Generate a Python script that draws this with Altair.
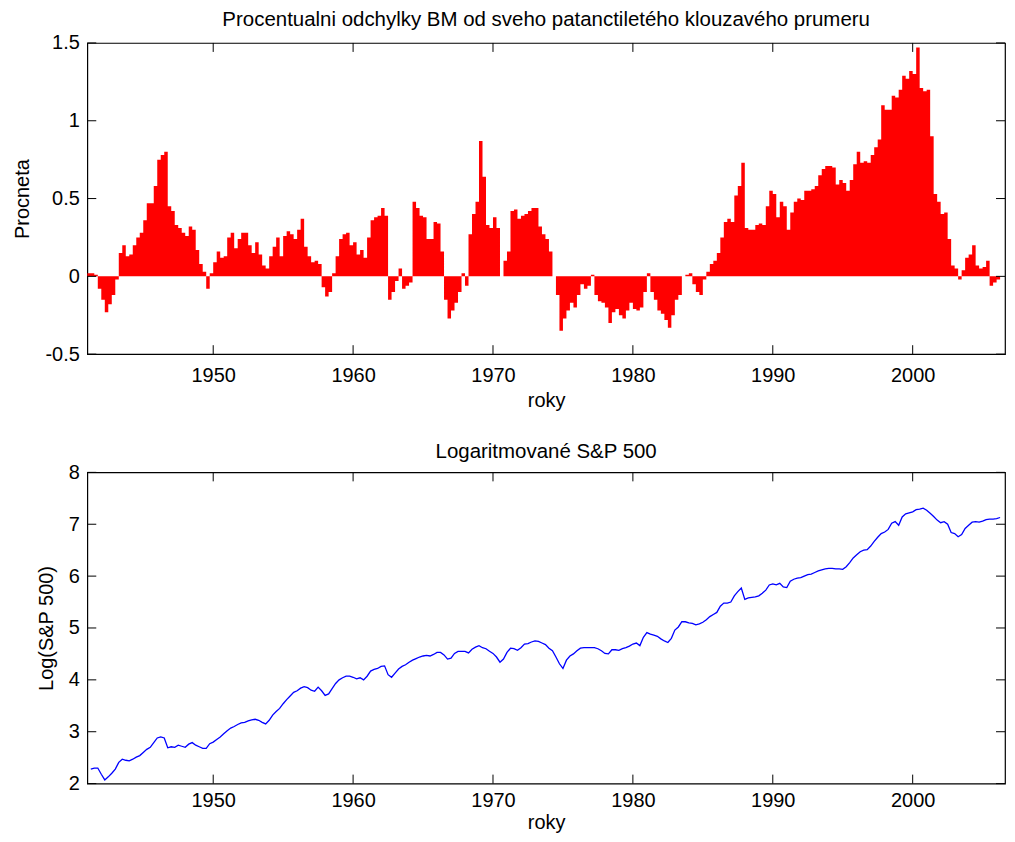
import altair as alt
import pandas as pd

# ---------------- data (quarterly) ----------------
bm_start = 1941.0
bm_dev = [
    0.02, 0.02, 0.01, -0.08, -0.15, -0.23, -0.18, -0.12, -0.02, 0.15,
    0.20, 0.13, 0.14, 0.20, 0.25, 0.28, 0.36, 0.47, 0.47, 0.58,
    0.75, 0.78, 0.80, 0.45, 0.42, 0.33, 0.31, 0.28, 0.26, 0.32,
    0.30, 0.17, 0.08, 0.03, -0.08, 0.02, 0.09, 0.16, 0.12, 0.13,
    0.25, 0.28, 0.18, 0.24, 0.28, 0.28, 0.20, 0.15, 0.22, 0.14,
    0.07, 0.05, 0.13, 0.19, 0.25, 0.13, 0.26, 0.29, 0.27, 0.24,
    0.30, 0.37, 0.19, 0.13, 0.09, 0.10, 0.08, -0.07, -0.13, -0.10,
    0.02, 0.13, 0.24, 0.27, 0.28, 0.20, 0.22, 0.14, 0.17, 0.12,
    0.25, 0.36, 0.38, 0.39, 0.44, 0.39, -0.15, -0.10, -0.03, 0.05,
    -0.08, -0.06, -0.04, 0.48, 0.44, 0.39, 0.38, 0.24, 0.24, 0.35,
    0.34, 0.16, -0.15, -0.27, -0.22, -0.17, -0.10, 0.02, -0.06, 0.27,
    0.40, 0.48, 0.87, 0.64, 0.33, 0.31, 0.38, 0.31, 0.00, 0.10,
    0.16, 0.42, 0.43, 0.37, 0.39, 0.40, 0.42, 0.44, 0.44, 0.32,
    0.27, 0.24, 0.16, 0.00, -0.12, -0.35, -0.27, -0.22, -0.17, -0.20,
    -0.12, -0.05, -0.08, -0.06, 0.01, -0.12, -0.16, -0.17, -0.20, -0.30,
    -0.23, -0.21, -0.25, -0.27, -0.22, -0.17, -0.21, -0.22, -0.20, -0.10,
    0.02, -0.10, -0.15, -0.22, -0.24, -0.28, -0.33, -0.25, -0.15, -0.12,
    0.00, 0.01, 0.02, -0.05, -0.10, -0.12, -0.02, 0.03, 0.08, 0.10,
    0.15, 0.25, 0.35, 0.37, 0.35, 0.52, 0.58, 0.73, 0.31, 0.30,
    0.30, 0.33, 0.34, 0.33, 0.45, 0.55, 0.53, 0.38, 0.48, 0.45,
    0.30, 0.41, 0.48, 0.50, 0.49, 0.55, 0.55, 0.56, 0.58, 0.65,
    0.69, 0.71, 0.71, 0.70, 0.59, 0.62, 0.60, 0.55, 0.62, 0.72,
    0.80, 0.73, 0.74, 0.73, 0.78, 0.83, 0.88, 1.10, 1.07, 1.07,
    1.16, 1.15, 1.20, 1.29, 1.27, 1.32, 1.30, 1.47, 1.21, 1.19,
    1.20, 0.90, 0.53, 0.48, 0.40, 0.41, 0.24, 0.07, 0.05, -0.02,
    0.04, 0.12, 0.14, 0.20, 0.07, 0.05, 0.06, 0.10, -0.06, -0.04,
    -0.02, 0.00,
]

sp_start = 1941.25
log_sp = [
    2.28, 2.30, 2.30, 2.18, 2.07, 2.13, 2.20, 2.28, 2.41, 2.47,
    2.45, 2.44, 2.47, 2.51, 2.54, 2.60, 2.66, 2.70, 2.79, 2.88,
    2.90, 2.88, 2.69, 2.71, 2.70, 2.74, 2.72, 2.70, 2.76, 2.79,
    2.74, 2.71, 2.68, 2.68, 2.77, 2.80, 2.85, 2.90, 2.96, 3.02,
    3.07, 3.10, 3.14, 3.17, 3.18, 3.21, 3.23, 3.24, 3.22, 3.18,
    3.15, 3.22, 3.32, 3.39, 3.45, 3.54, 3.62, 3.69, 3.76, 3.79,
    3.84, 3.87, 3.85, 3.80, 3.78, 3.86, 3.79, 3.70, 3.73, 3.83,
    3.93, 4.00, 4.04, 4.07, 4.07, 4.05, 4.02, 4.04, 4.00, 4.07,
    4.17, 4.20, 4.22, 4.26, 4.27, 4.10, 4.05, 4.13, 4.21, 4.26,
    4.29, 4.34, 4.38, 4.41, 4.44, 4.46, 4.47, 4.46, 4.49, 4.53,
    4.53, 4.48, 4.40, 4.42, 4.51, 4.55, 4.55, 4.55, 4.52, 4.59,
    4.63, 4.66, 4.62, 4.60, 4.55, 4.51, 4.44, 4.34, 4.40, 4.53,
    4.61, 4.60, 4.57, 4.62, 4.69, 4.70, 4.73, 4.75, 4.74, 4.71,
    4.68, 4.61, 4.56, 4.44, 4.31, 4.22, 4.38, 4.46, 4.50, 4.56,
    4.61, 4.62, 4.62, 4.62, 4.62, 4.60, 4.56, 4.51, 4.50, 4.58,
    4.58, 4.57, 4.60, 4.62, 4.65, 4.69, 4.71, 4.66, 4.82, 4.91,
    4.88, 4.86, 4.84, 4.79, 4.75, 4.72, 4.80, 4.96, 5.02, 5.12,
    5.12, 5.10, 5.09, 5.06, 5.08, 5.11, 5.16, 5.22, 5.26, 5.30,
    5.42, 5.48, 5.48, 5.50, 5.62, 5.70, 5.77, 5.55, 5.58, 5.59,
    5.60, 5.62, 5.67, 5.73, 5.83, 5.85, 5.83, 5.86, 5.79, 5.78,
    5.90, 5.94, 5.96, 5.97, 6.00, 6.03, 6.04, 6.07, 6.10, 6.12,
    6.14, 6.15, 6.15, 6.14, 6.14, 6.13, 6.18, 6.26, 6.35, 6.41,
    6.47, 6.50, 6.51, 6.58, 6.67, 6.75, 6.82, 6.85, 6.90, 7.02,
    7.05, 6.98, 7.14, 7.20, 7.22, 7.24, 7.28, 7.29, 7.31, 7.27,
    7.21, 7.15, 7.08, 7.03, 7.05, 7.00, 6.84, 6.82, 6.76, 6.80,
    6.92, 6.98, 7.04, 7.05, 7.04, 7.06, 7.09, 7.10, 7.10, 7.11,
    7.13,
]

step = 0.25
x_ticks = [1950, 1960, 1970, 1980, 1990, 2000]
y_ticks_top = [-0.5, 0, 0.5, 1, 1.5]
y_ticks_bottom = [2, 3, 4, 5, 6, 7, 8]
x_domain = [1941.0, 2006.6]

title_top = "Procentualni odchylky BM od sveho patanctiletého klouzavého prumeru"
title_bottom = "Logaritmované S&P 500"
ylab_top = "Procneta"
ylab_bottom = "Log(S&P 500)"
xlab = "roky"

# ---------------- tables ----------------
bm_years = [bm_start + step * i for i in range(len(bm_dev))]
top_df = pd.DataFrame({
    "year": bm_years + [bm_years[-1] + step],
    "value": bm_dev + [bm_dev[-1]],
})
sp_df = pd.DataFrame({
    "year": [sp_start + step * i for i in range(len(log_sp))],
    "value": log_sp,
})
xt_df = pd.DataFrame({"year": x_ticks})

FONT = "Liberation Sans"
FS = 20
TFS = 20.5
W, H = 920, 312
TL = 9  # inner tick length

xscale = alt.Scale(domain=x_domain, nice=False, zero=False)
neg_expr = "datum.value < 0 ? '-' + format(-datum.value, '~g') : format(datum.value, '~g')"


def xaxis(lp, tp):
    return alt.Axis(values=x_ticks, format="d", ticks=False, domain=False, grid=False,
                    labelFont=FONT, labelFontSize=FS, labelColor="black", labelPadding=lp,
                    labelFlush=False, labelOverlap=False,
                    title=xlab, titleFont=FONT, titleFontSize=FS, titleFontWeight="normal",
                    titleColor="black", titlePadding=tp)


def yaxis(vals, title):
    return alt.Axis(values=vals, labelExpr=neg_expr, ticks=False, domain=False, grid=False,
                    labelFont=FONT, labelFontSize=FS, labelColor="black", labelPadding=8,
                    labelFlush=False, labelOverlap=False,
                    title=title, titleFont=FONT, titleFontSize=FS, titleFontWeight="normal",
                    titleColor="black", titlePadding=12)


def panel_encodings(ydomain, yvals, yax, xax):
    X = alt.X("year:Q", scale=xscale, axis=xax)
    Y = alt.Y("value:Q", scale=alt.Scale(domain=ydomain, nice=False, zero=False), axis=yax)
    xt_top = alt.Chart(xt_df).mark_rule(color="black", strokeWidth=1).encode(
        x=X, y=alt.value(0), y2=alt.value(TL))
    xt_bot = alt.Chart(xt_df).mark_rule(color="black", strokeWidth=1).encode(
        x=X, y=alt.value(H), y2=alt.value(H - TL))
    yt_df = pd.DataFrame({"value": yvals})
    yt_l = alt.Chart(yt_df).mark_rule(color="black", strokeWidth=1).encode(
        y=Y, x=alt.value(0), x2=alt.value(TL))
    yt_r = alt.Chart(yt_df).mark_rule(color="black", strokeWidth=1).encode(
        y=Y, x=alt.value(W), x2=alt.value(W - TL))
    return X, Y, [xt_top, xt_bot, yt_l, yt_r]


# ---------------- top panel ----------------
Xt, Yt, ticks_t = panel_encodings([-0.5, 1.5], y_ticks_top,
                                  yaxis(y_ticks_top, ylab_top), xaxis(11, 5))
area = alt.Chart(top_df).mark_area(color="#ff0000", interpolate="step-after").encode(
    x=Xt, y=Yt, y2=alt.datum(0))
top = alt.layer(area, *ticks_t).properties(
    width=W, height=H,
    title=alt.TitleParams(title_top, font=FONT, fontSize=TFS, fontWeight="normal",
                          color="black", anchor="middle", offset=2.5))

# ---------------- bottom panel ----------------
Xb, Yb, ticks_b = panel_encodings([2, 8], y_ticks_bottom,
                                  yaxis(y_ticks_bottom, ylab_bottom), xaxis(7, 2))
line = alt.Chart(sp_df).mark_line(color="#0000ff", strokeWidth=1.3).encode(x=Xb, y=Yb)
bottom = alt.layer(line, *ticks_b).properties(
    width=W, height=H,
    title=alt.TitleParams(title_bottom, font=FONT, fontSize=TFS, fontWeight="normal",
                          color="black", anchor="middle", offset=0))

chart = alt.vconcat(top, bottom, spacing=29.5).properties(
    padding={"left": 3.5, "top": 0, "right": 0, "bottom": 0},
    background="white",
).configure_view(stroke="black", strokeWidth=1.2)

chart.save("out.html", embed_options={"renderer": "svg", "actions": False})
